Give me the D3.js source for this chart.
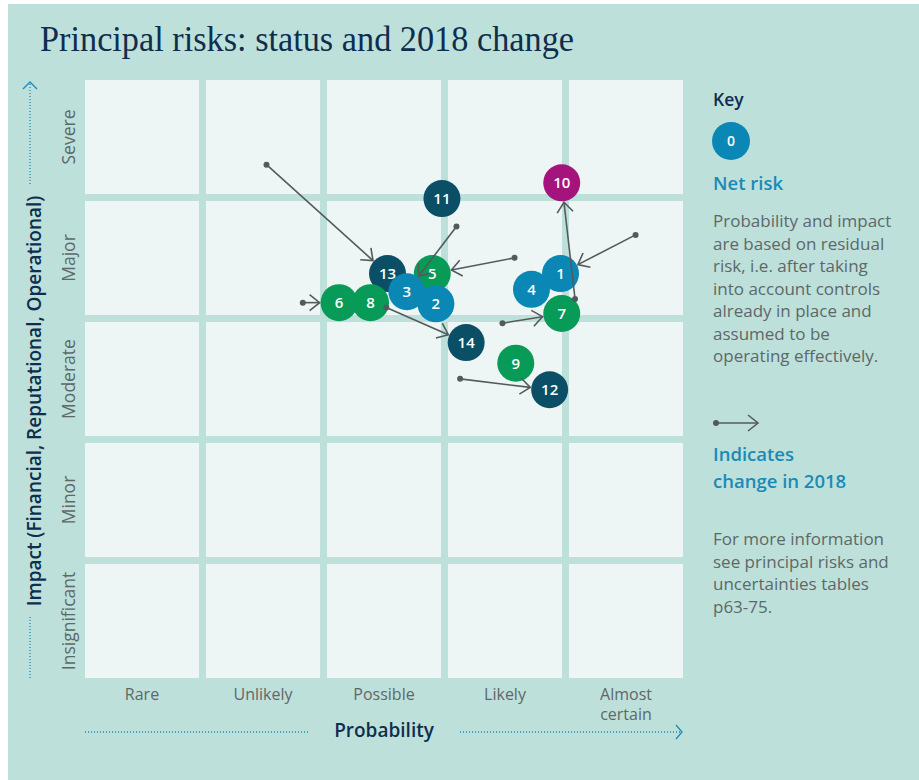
<!DOCTYPE html>
<html>
<head>
<meta charset="utf-8">
<script src="https://cdn.jsdelivr.net/npm/d3@7"></script>
<style>
  html, body { margin: 0; padding: 0; background: #ffffff; }
  svg { display: block; }
  text { font-family: "Open Sans", "Noto Sans", sans-serif; }
</style>
</head>
<body>
<svg id="chart" width="919" height="780"></svg>
<script>
// Axis categories
const probabilityLabels = ["Rare", "Unlikely", "Possible", "Likely", "Almost certain"];
const impactLabels = ["Insignificant", "Minor", "Moderate", "Major", "Severe"];

// Principal risks (ids), their colour group and positions on the matrix
// (probability / impact in category units, 0 = left / bottom edge)
const riskIds     = [1, 2, 3, 4, 5, 6, 7, 8, 9, 10, 11, 12, 13, 14];
const riskGroup   = ["blue", "blue", "blue", "blue", "green", "green", "green", "green", "green", "magenta", "navy", "navy", "navy", "navy"];
const probNow     = [3.93, 2.90, 2.66, 3.69, 2.87, 2.10, 3.94, 2.36, 3.56, 3.94, 2.95, 3.84, 2.50, 3.15];
const impactNow   = [3.40, 3.15, 3.25, 3.27, 3.40, 3.16, 3.07, 3.16, 2.66, 4.15, 4.02, 2.44, 3.40, 2.83];
// Position before the 2018 change (null = unchanged)
const probPrev    = [4.55, null, 3.07, null, 3.55, 1.80, 3.45, null, null, 4.05, null, 3.10, 1.50, 2.49];
const impactPrev  = [3.72, null, 3.79, null, 3.53, 3.16, 2.99, null, null, 3.19, null, 2.53, 4.30, 3.12];

// Stacking order of the bubbles
const drawOrder = [13, 5, 2, 3, 6, 8, 11, 14, 1, 4, 7, 10, 9, 12];

const colors = {
  navy: "#0b4f66",
  blue: "#0a87b5",
  green: "#089a57",
  magenta: "#a5147d"
};
const bg = "#bee0da";
const cellFill = "#edf6f4";
const gridGap = 7;
const textGray = "#5d6868";
const navyText = "#0e2e4e";
const accentBlue = "#1a8ab6";
const arrowGray = "#545a5c";
const bubbleR = 18.5;

const svg = d3.select("#chart");

// Panel background
svg.append("rect").attr("x", 8).attr("y", 4).attr("width", 911).attr("height", 776).attr("fill", bg);

// Title
svg.append("text")
  .attr("x", 40).attr("y", 51)
  .attr("fill", navyText)
  .style("font-family", "'Liberation Serif', 'DejaVu Serif', serif")
  .style("font-size", "36px")
  .attr("textLength", 534)
  .attr("lengthAdjust", "spacingAndGlyphs")
  .text("Principal risks: status and 2018 change");

// Scales
const x = d3.scaleLinear().domain([0, 5]).range([85, 690]);
const y = d3.scaleLinear().domain([0, 5]).range([685, 80]);
const xBand = d3.scaleBand().domain(probabilityLabels).range([85, 690]);
const yBand = d3.scaleBand().domain(impactLabels.slice().reverse()).range([80, 685]);
const cw = xBand.bandwidth() - gridGap;
const ch = yBand.bandwidth() - gridGap;

// Grid cells
const cells = [];
probabilityLabels.forEach(p => impactLabels.forEach(i => cells.push({ p, i })));
svg.append("g").selectAll("rect").data(cells).join("rect")
  .attr("x", d => xBand(d.p))
  .attr("y", d => yBand(d.i))
  .attr("width", cw)
  .attr("height", ch)
  .attr("fill", cellFill);

// Probability labels
const xl = svg.append("g").selectAll("text").data(probabilityLabels).join("text")
  .attr("x", d => xBand(d) + cw / 2)
  .attr("y", 700)
  .attr("text-anchor", "middle")
  .attr("fill", textGray)
  .style("font-size", "16px");
xl.each(function (d) {
  const words = d === "Almost certain" ? ["Almost", "certain"] : [d];
  d3.select(this).selectAll("tspan").data(words).join("tspan")
    .attr("x", xBand(d) + cw / 2)
    .attr("dy", (w, k) => k === 0 ? 0 : 20)
    .text(w => w);
});

// Impact labels
svg.append("g").selectAll("text").data(impactLabels).join("text")
  .attr("transform", d => `translate(75,${yBand(d) + ch / 2}) rotate(-90)`)
  .attr("text-anchor", "middle")
  .attr("fill", textGray)
  .style("font-size", "17.5px")
  .text(d => d);

// Axis titles with dotted guides
svg.append("text")
  .attr("x", 384).attr("y", 737)
  .attr("text-anchor", "middle")
  .attr("fill", navyText)
  .style("font-size", "19px").style("font-weight", 600)
  .text("Probability");

const dotted = (x1, y1, x2, y2) => svg.append("line")
  .attr("x1", x1).attr("y1", y1).attr("x2", x2).attr("y2", y2)
  .attr("stroke", accentBlue).attr("stroke-width", 1.3)
  .attr("stroke-dasharray", "1 2");

dotted(85, 732, 308, 732);
dotted(460, 732, 681, 732);
svg.append("path").attr("d", "M676,725 L682,732 L676,739")
  .attr("fill", "none").attr("stroke", accentBlue).attr("stroke-width", 1.3);

svg.append("text")
  .attr("transform", "translate(41,401) rotate(-90)")
  .attr("text-anchor", "middle")
  .attr("fill", navyText)
  .style("font-size", "19px").style("font-weight", 600)
  .text("Impact (Financial, Reputational, Operational)");

dotted(30, 84, 30, 186);
dotted(30, 617, 30, 678);
svg.append("path").attr("d", "M23,89 L30,82 L37,89")
  .attr("fill", "none").attr("stroke", accentBlue).attr("stroke-width", 1.3);

// Risk records
const risks = riskIds.map((id, k) => ({
  id,
  group: riskGroup[k],
  p: probNow[k], i: impactNow[k],
  pp: probPrev[k], ip: impactPrev[k]
}));
const byId = new Map(risks.map(r => [r.id, r]));

// Bubbles
const bubbles = svg.append("g").selectAll("g").data(drawOrder.map(id => byId.get(id))).join("g")
  .attr("transform", d => `translate(${x(d.p)},${y(d.i)})`);
bubbles.append("circle").attr("r", bubbleR).attr("fill", d => colors[d.group]);
bubbles.append("text")
  .attr("text-anchor", "middle").attr("dy", "0.36em")
  .attr("fill", "#ffffff")
  .style("font-size", "15px").style("font-weight", 600)
  .text(d => d.id);

// Arrow marker
const defs = svg.append("defs");
defs.append("marker")
  .attr("id", "chev")
  .attr("markerUnits", "userSpaceOnUse")
  .attr("viewBox", "-12 -9 14 18")
  .attr("markerWidth", 14).attr("markerHeight", 18)
  .attr("refX", 0).attr("refY", 0)
  .attr("orient", "auto")
  .append("path")
  .attr("d", "M-10,-8 L0,0 L-10,8")
  .attr("fill", "none").attr("stroke", arrowGray).attr("stroke-width", 1.6);

// 2018 changes: from previous position to the edge of the current bubble
const moved = risks.filter(r => r.pp !== null);
const arrows = svg.append("g").selectAll("g").data(moved).join("g");
arrows.each(function (d) {
  const x0 = x(d.pp), y0 = y(d.ip), x1 = x(d.p), y1 = y(d.i);
  const len = Math.hypot(x1 - x0, y1 - y0);
  const t = (len - bubbleR - 1) / len;
  const g = d3.select(this);
  g.append("line")
    .attr("x1", x0).attr("y1", y0)
    .attr("x2", x0 + (x1 - x0) * t).attr("y2", y0 + (y1 - y0) * t)
    .attr("stroke", arrowGray).attr("stroke-width", 1.6)
    .attr("marker-end", "url(#chev)");
  g.append("circle").attr("cx", x0).attr("cy", y0).attr("r", 3).attr("fill", arrowGray);
});

// Key
const key = svg.append("g");
key.append("text").attr("x", 713).attr("y", 106)
  .attr("fill", navyText).style("font-size", "17.5px").style("font-weight", 600).text("Key");
key.append("circle").attr("cx", 731).attr("cy", 141).attr("r", 19).attr("fill", colors.blue);
key.append("text").attr("x", 731).attr("y", 141).attr("dy", "0.36em")
  .attr("text-anchor", "middle").attr("fill", "#fff")
  .style("font-size", "14px").style("font-weight", 600).text("0");
key.append("text").attr("x", 713).attr("y", 190)
  .attr("fill", accentBlue).style("font-size", "18.5px").style("font-weight", 600).text("Net risk");

const para1 = ["Probability and impact", "are based on residual", "risk, i.e. after taking",
  "into account controls", "already in place and", "assumed to be", "operating effectively."];
key.append("g").selectAll("text").data(para1).join("text")
  .attr("x", 713).attr("y", (d, k) => 227 + k * 22.5)
  .attr("fill", textGray).style("font-size", "17px").text(d => d);

key.append("line").attr("x1", 716).attr("y1", 423).attr("x2", 758).attr("y2", 423)
  .attr("stroke", arrowGray).attr("stroke-width", 1.6).attr("marker-end", "url(#chev)");
key.append("circle").attr("cx", 716).attr("cy", 423).attr("r", 3).attr("fill", arrowGray);

const para2 = ["Indicates", "change in 2018"];
key.append("g").selectAll("text").data(para2).join("text")
  .attr("x", 713).attr("y", (d, k) => 461 + k * 27)
  .attr("fill", accentBlue).style("font-size", "18.5px").style("font-weight", 600).text(d => d);

const para3 = ["For more information", "see principal risks and", "uncertainties tables", "p63-75."];
key.append("g").selectAll("text").data(para3).join("text")
  .attr("x", 713).attr("y", (d, k) => 545 + k * 22.5)
  .attr("fill", textGray).style("font-size", "17px").text(d => d);
</script>
</body>
</html>
